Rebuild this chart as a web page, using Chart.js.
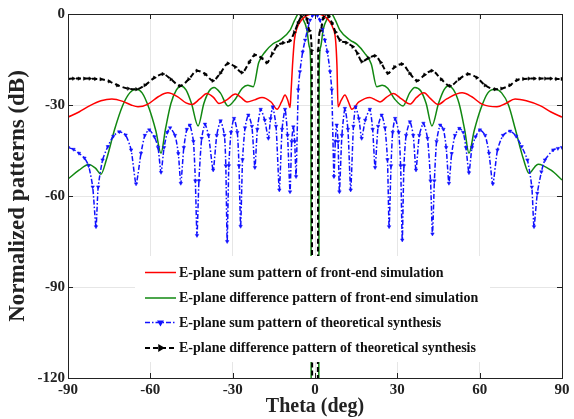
<!DOCTYPE html>
<html>
<head>
<meta charset="utf-8">
<script src="https://cdn.jsdelivr.net/npm/chart.js@4.4.1/dist/chart.umd.min.js"></script>
<style>
  body { margin: 0; background: #fff; }
  #wrap { width: 574px; height: 419px; }
</style>
</head>
<body>
<div id="wrap"><canvas id="patternChart" width="574" height="419"></canvas></div>
<script>
// E-plane sum pattern, front-end simulation
var sumSimTheta = [-90, -86, -82, -78, -74, -70, -67, -64.5, -61, -57, -53.6, -50, -47, -44.8, -42, -39.4, -37, -35, -32, -29, -27, -24.8, -22, -19.3, -16, -13.8, -12.2, -10.9, -9.9, -9.1, -8.8, -8.2, -7.5, -6.5, -4.9, -3.5, -1.8, 0,
    1.8, 3.5, 4.9, 6.5, 7.5, 8.0, 8.4, 9.5, 10.9, 12.2, 13.4, 16, 20, 22, 23.7, 26, 28.5, 31.5, 34.6, 37, 39.7, 42, 44.9, 48, 53.6, 57, 61, 66.3, 69.5, 72.9, 77, 82, 86, 90];
var sumSimDb = [-34, -32.3, -30.2, -28.6, -28, -28.8, -30, -30.6, -29.8, -27.2, -26, -27.3, -29.3, -29.8, -28, -26.2, -27.5, -29.5, -28.2, -26.4, -27.5, -29, -28.3, -27.5, -29, -31.4, -29, -26.7, -28.5, -30.8, -27, -17, -8.6, -4.5, -2, -0.8, -0.1, 0,
    -0.1, -0.8, -2, -4.5, -8.6, -17, -30.6, -28.5, -26.7, -29, -31.4, -29, -27.5, -28.3, -29, -27.5, -26.2, -28, -29.7, -27.5, -26, -27.8, -29.8, -28, -26, -27.2, -29.8, -30.6, -29.5, -28, -28.6, -30.2, -32.3, -34];

// E-plane difference pattern, front-end simulation
var diffSimTheta = [-90, -86, -82.5, -80, -78, -76, -73, -70, -67.5, -65.2, -63, -60.5, -58, -56.1, -54.5, -52.5, -50.5, -48.8, -47, -45, -42.6, -40.5, -38.5, -36.8, -34.5, -31.7, -29, -26.5, -24.5, -22.5, -20.5, -18, -15.3, -12.8, -9, -7.5, -6, -4.5, -3, -2, -1.5, -1.3,
    1.3, 1.5, 2, 3, 4.5, 6, 7.5, 9, 12.8, 15.3, 18, 20.5, 22.5, 24.5, 26.5, 29, 32.1, 34.5, 36.4, 38.5, 40.5, 42.6, 45, 47, 48.5, 50.5, 52.5, 54.5, 56.1, 58, 60.5, 63, 65.6, 68, 70.5, 73, 76, 78, 80, 81.3, 86, 90];
var diffSimDb = [-54.4, -51.5, -49.6, -50.8, -52.8, -48, -38, -30, -26, -24.8, -26, -31, -38.5, -45.9, -38, -29.5, -25, -23.7, -25, -29.5, -36.9, -29.5, -25.3, -24.2, -26, -30.3, -28, -24.5, -23.5, -24, -16, -12.3, -9.8, -8.6, -5.2, -2.2, 0, -1.5, -5, -11, -20, -200,
    -200, -20, -11, -5, -1.5, 0, -2.2, -5.2, -8.6, -10, -12.8, -16.5, -24, -23.5, -24.5, -28, -30.3, -26, -24.2, -25.3, -29.5, -36.9, -29.5, -25, -23.7, -25, -29.5, -38, -45.9, -38.5, -31, -26, -24.8, -26, -30, -38, -48, -52.5, -50.5, -49.5, -51.5, -54.7];

// E-plane sum pattern, theoretical synthesis
var sumThTheta = [-90, -88, -86, -84, -82.5, -81, -79.8, -79, -77.4, -75.5, -73.5, -71.3, -69, -67, -65.2, -63.4, -62, -60.4, -58.5, -57.2, -56.1, -55, -53.8, -52.8, -51, -49.8, -48.9, -47.8, -46.7, -45.6, -44.3, -43.6, -43, -42.3, -41.3, -40.1, -38.8, -37.1, -35.8, -34.4, -33, -32.5, -32, -31.4, -30.6, -29.5, -28.3, -27.7, -27.1, -26.4, -25.5, -24.3, -23, -21.9, -21, -19.8, -18.3, -17, -16.2, -15.4, -14.2, -13, -12, -10.9, -10, -9.1, -8.5, -7.9, -7.4, -6.9, -6.1, -5.5, -4.5, -3.6, -2.7, -1.8, -0.9, 0,
    0.9, 1.8, 2.7, 3.6, 4.5, 5.5, 6.1, 6.9, 7.4, 7.9, 8.4, 8.9, 9.8, 10.9, 12, 13, 14, 14.8, 16, 17, 18.3, 20, 21, 21.9, 23, 24.3, 25.5, 26.4, 27, 27.7, 28.3, 29.2, 30.5, 31.2, 31.8, 32.4, 33.2, 34.6, 35.8, 36.8, 38, 39.5, 41, 42.1, 42.8, 43.5, 44.3, 45.6, 46.8, 47.8, 48.8, 49.8, 51, 52.6, 54, 55, 56.1, 57.2, 58.5, 60.1, 62, 63.4, 64.8, 66.5, 68.5, 71.1, 73.3, 75.3, 77.4, 79, 79.8, 81, 82.5, 83.8, 86.8, 88.5, 90];
var sumThDb = [-44, -44.6, -45.9, -47.5, -50, -57, -70.1, -57, -48.1, -43.7, -40.3, -38.8, -39.9, -44.8, -56, -45.9, -40, -38.2, -40.5, -44, -52.2, -44, -39, -37.5, -40, -46, -55.8, -44, -38, -36.6, -42, -55, -73, -55, -41, -36.3, -40, -51.4, -40, -35.2, -40, -50, -75, -50, -39, -34.4, -39, -50, -70, -48, -37.5, -33.3, -37, -50.6, -38, -31.4, -35, -41, -34.5, -30.6, -37, -58, -38, -31.4, -40, -58.6, -42, -37.2, -42, -53.6, -25, -19, -12.5, -8.6, -5, -2, -0.5, 0,
    -0.5, -2, -5, -8.6, -12.5, -19, -25, -53.6, -42, -36.6, -42, -58.6, -40, -31.1, -38, -58, -37, -30.6, -34.5, -41, -35, -31.4, -38, -50.6, -37, -33.3, -37.5, -48, -70.1, -50, -39, -34.4, -39, -50, -74.5, -50, -40, -35.5, -40, -51.4, -40, -36, -41, -55, -72.5, -55, -42, -36.6, -38, -44, -55.8, -46, -40, -37.7, -39, -44, -52.3, -44, -40.5, -38.2, -40, -45.9, -56, -44.8, -40, -38.6, -40.3, -43.7, -48.1, -57, -70.1, -59.1, -52, -48.1, -44.8, -44.3, -44];

// E-plane difference pattern, theoretical synthesis
var diffThTheta = [-90, -88, -86, -84, -82, -80, -78, -75, -72, -68, -65, -62, -58.5, -55.4, -52.5, -49.2, -46, -43, -40, -37.2, -34.5, -31.7, -29, -26.6, -24, -21.9, -19.5, -17.5, -15.5, -13.8, -11.5, -9.1, -7.5, -6.2, -5, -4, -3, -2, -1.2, -0.9,
    0.9, 1.2, 2, 3, 4, 5, 6.2, 7.5, 9.1, 11.5, 13.8, 15.5, 17.1, 19.5, 21.9, 24, 26.6, 29, 31.7, 34.5, 37.2, 40, 42.6, 46, 49.2, 52.5, 55.8, 59, 62, 65.6, 68, 71, 73.6, 76, 78, 80, 82, 84, 86, 88, 90];
var diffThDb = [-21.4, -21.3, -21.3, -21.3, -21.3, -21.4, -21.5, -22.2, -23.5, -24.6, -24.8, -23.5, -21, -19.8, -21.5, -23.7, -21.5, -18.7, -19.8, -22, -19.5, -16.3, -17.5, -19.3, -16, -13.5, -14.5, -16, -13, -10.5, -9.5, -8.8, -6, -3, -0.8, 0, -1.5, -5.5, -12, -200,
    -200, -12, -5.5, -1.5, 0, -0.8, -3, -6, -8.6, -9.5, -10.8, -13, -15.7, -14.5, -13.8, -16, -19.5, -17.5, -16.5, -19.5, -22, -20, -18.7, -21.5, -23.7, -21.5, -19.8, -21, -23.5, -24.8, -24.6, -23.5, -21.8, -21.4, -21.3, -21.3, -21.3, -21.3, -21.3, -21.4, -21.4];

var legendLabels = [
    'E-plane sum pattern of front-end simulation',
    'E-plane difference pattern of front-end simulation',
    'E-plane sum pattern of theoretical synthesis',
    'E-plane difference pattern of theoretical synthesis'
];

var xTicks = [-90, -60, -30, 0, 30, 60, 90];
var yTicks = [-120, -90, -60, -30, 0];

function toPoints(xs, ys) {
    var pts = [];
    for (var i = 0; i < xs.length; i++) pts.push({ x: xs[i], y: ys[i] });
    return pts;
}

var serif = '"Liberation Serif", "Times New Roman", serif';

// box round the plot with inward ticks on all four sides, then the legend block
var frameBox = {
    id: 'frameBox',
    afterDatasetsDraw: function (chart) {
        var ctx = chart.ctx, a = chart.chartArea;
        var xs = chart.scales.x, ys = chart.scales.y;
        ctx.save();
        ctx.strokeStyle = '#222';
        ctx.lineWidth = 1;
        ctx.beginPath();
        xTicks.forEach(function (t) {
            var px = Math.round(xs.getPixelForValue(t)) + 0.5;
            ctx.moveTo(px, a.bottom); ctx.lineTo(px, a.bottom - 5);
            ctx.moveTo(px, a.top); ctx.lineTo(px, a.top + 5);
        });
        yTicks.forEach(function (t) {
            var py = Math.round(ys.getPixelForValue(t)) + 0.5;
            ctx.moveTo(a.left, py); ctx.lineTo(a.left + 5, py);
            ctx.moveTo(a.right, py); ctx.lineTo(a.right - 5, py);
        });
        ctx.stroke();
        ctx.strokeRect(Math.round(a.left) + 0.5, Math.round(a.top) + 0.5,
            Math.round(a.right - a.left), Math.round(a.bottom - a.top));

        ctx.fillStyle = '#fff';
        ctx.fillRect(135, 256, 355, 106);
        var rows = [272.5, 298, 322.5, 348];
        chart.data.datasets.forEach(function (ds, i) {
            var y = rows[i];
            ctx.save();
            ctx.strokeStyle = ds.borderColor;
            ctx.lineWidth = ds.borderWidth;
            ctx.setLineDash(ds.borderDash || []);
            ctx.beginPath();
            ctx.moveTo(145, y); ctx.lineTo(176, y);
            ctx.stroke();
            ctx.setLineDash([]);
            if (ds.pointRadius > 0) {
                ctx.fillStyle = ds.pointBackgroundColor;
                ctx.strokeStyle = ds.pointBorderColor;
                Chart.helpers.drawPoint(ctx, {
                    pointStyle: ds.pointStyle,
                    radius: ds.pointRadius + 0.5,
                    rotation: ds.pointRotation,
                    borderWidth: 1
                }, 160.5, y);
            }
            ctx.restore();
            ctx.fillStyle = '#111';
            ctx.font = 'bold 14px ' + serif;
            ctx.textBaseline = 'middle';
            ctx.fillText(legendLabels[i], 179, y + 0.5);
        });
        ctx.restore();
    }
};

var ctxPattern = document.getElementById('patternChart').getContext('2d');
var patternChart = new Chart(ctxPattern, {
    type: 'line',
    data: {
        datasets: [{
            label: legendLabels[0],
            data: toPoints(sumSimTheta, sumSimDb),
            borderColor: '#ff0000',
            borderWidth: 1.5,
            pointRadius: 0,
            cubicInterpolationMode: 'monotone',
            order: 3
        }, {
            label: legendLabels[1],
            data: toPoints(diffSimTheta, diffSimDb),
            borderColor: '#118811',
            borderWidth: 1.5,
            pointRadius: 0,
            cubicInterpolationMode: 'monotone',
            order: 4
        }, {
            label: legendLabels[2],
            data: toPoints(sumThTheta, sumThDb),
            borderColor: '#1010ff',
            borderWidth: 1.5,
            borderDash: [5, 2, 1.5, 2],
            pointStyle: 'triangle',
            pointRotation: 180,
            pointRadius: 2,
            pointBackgroundColor: '#1010ff',
            pointBorderColor: '#1010ff',
            pointBorderWidth: 0.5,
            tension: 0.2,
            order: 2
        }, {
            label: legendLabels[3],
            data: toPoints(diffThTheta, diffThDb),
            borderColor: '#000000',
            borderWidth: 2,
            borderDash: [5, 3],
            pointStyle: 'triangle',
            pointRotation: 90,
            pointRadius: 2,
            pointBackgroundColor: '#000000',
            pointBorderColor: '#000000',
            pointBorderWidth: 0.5,
            cubicInterpolationMode: 'monotone',
            order: 1
        }]
    },
    options: {
        responsive: false,
        animation: false,
        layout: { padding: { left: 0, right: 12, top: 14, bottom: 0 } },
        plugins: { legend: { display: false }, tooltip: { enabled: false } },
        scales: {
            x: {
                type: 'linear',
                min: -90, max: 90,
                afterBuildTicks: function (scale) { scale.ticks = xTicks.map(function (v) { return { value: v }; }); },
                afterFit: function (scale) { scale.height = 41; },
                ticks: { padding: 3, color: '#222', font: { family: serif, size: 15, weight: 'bold' } },
                grid: { color: '#e6e6e6', lineWidth: 1, drawTicks: false },
                border: { display: false },
                title: { display: true, text: 'Theta (deg)', color: '#222', padding: { top: 0, bottom: 0 },
                    font: { family: serif, size: 20, weight: 'bold' } }
            },
            y: {
                type: 'linear',
                min: -120, max: 0,
                afterBuildTicks: function (scale) { scale.ticks = yTicks.map(function (v) { return { value: v }; }); },
                afterFit: function (scale) { scale.width = 68; },
                ticks: { padding: 3, color: '#222', font: { family: serif, size: 15, weight: 'bold' } },
                grid: { color: '#e6e6e6', lineWidth: 1, drawTicks: false },
                border: { display: false },
                title: { display: true, text: 'Normalized patterns (dB)', color: '#222', padding: { top: 4, bottom: 0 },
                    font: { family: serif, size: 23, weight: 'bold' } }
            }
        }
    },
    plugins: [frameBox]
});
</script>
</body>
</html>
